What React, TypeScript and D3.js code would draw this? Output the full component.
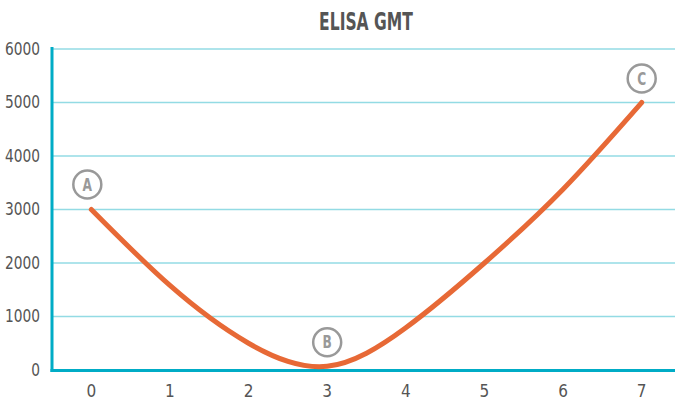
import React from "react";
import * as d3 from "d3";

const xValues = [0, 1, 2, 3, 4, 5, 6, 7];
const gmtValues = [3000, 1580, 500, 70, 790, 2000, 3380, 5000];
const yTicks = [0, 1000, 2000, 3000, 4000, 5000, 6000];
const xTicks = [0, 1, 2, 3, 4, 5, 6, 7];
const markers = [
  { label: "A", x: 0, y: 3000, dx: -4, dy: -25 },
  { label: "B", x: 3, y: 70, dx: 0, dy: -24 },
  { label: "C", x: 7, y: 5000, dx: 0, dy: -24 },
];

const W = 675;
const H = 403;
const FONT = "'DejaVu Sans Condensed', 'Liberation Sans Narrow', sans-serif";

export default function App() {
  const x = d3.scaleLinear().domain([-0.5, 7.5]).range([52, 681]);
  const y = d3.scaleLinear().domain([0, 6000]).range([370, 49]);
  const line = d3
    .line<number>()
    .x((_, i) => x(xValues[i]))
    .y((d) => y(d))
    .curve(d3.curveNatural);

  return (
    <svg width={W} height={H} style={{ position: "absolute", left: 0, top: 0 }}>
      <rect width={W} height={H} fill="#fff" />
      <text x={366} y={30} textAnchor="middle" fontFamily={FONT} fontWeight="bold" fontSize={24} fill="#555" transform="translate(366,0) scale(0.72,1) translate(-366,0)">
        ELISA GMT
      </text>
      {yTicks.map((t) => (
        <g key={t}>
          {t > 0 && (
            <line x1={52} x2={W} y1={y(t)} y2={y(t)} stroke="#93dbe4" strokeWidth={1.5} />
          )}
          <text x={40} y={y(t) + 6} textAnchor="end" fontFamily={FONT} fontSize={17} fill="#555" transform={`translate(40,0) scale(0.9,1) translate(-40,0)`}>
            {t}
          </text>
        </g>
      ))}
      {xTicks.map((t) => (
        <text key={t} x={x(t)} y={397} textAnchor="middle" fontFamily={FONT} fontSize={17} fill="#555">
          {t}
        </text>
      ))}
      <line x1={52} x2={52} y1={47} y2={372} stroke="#00acc6" strokeWidth={3} />
      <line x1={50.5} x2={W} y1={370.5} y2={370.5} stroke="#00acc6" strokeWidth={3} />
      <path d={line(gmtValues) || ""} fill="none" stroke="#e76936" strokeWidth={5} strokeLinecap="round" />
      {markers.map((m) => (
        <g key={m.label} transform={`translate(${x(m.x) + m.dx},${y(m.y) + m.dy})`}>
          <circle r={14} fill="#fff" stroke="#999" strokeWidth={2.5} />
          <text y={6} textAnchor="middle" fontFamily={FONT} fontWeight="bold" fontSize={17} fill="#999" transform="scale(0.8,1)">
            {m.label}
          </text>
        </g>
      ))}
    </svg>
  );
}
